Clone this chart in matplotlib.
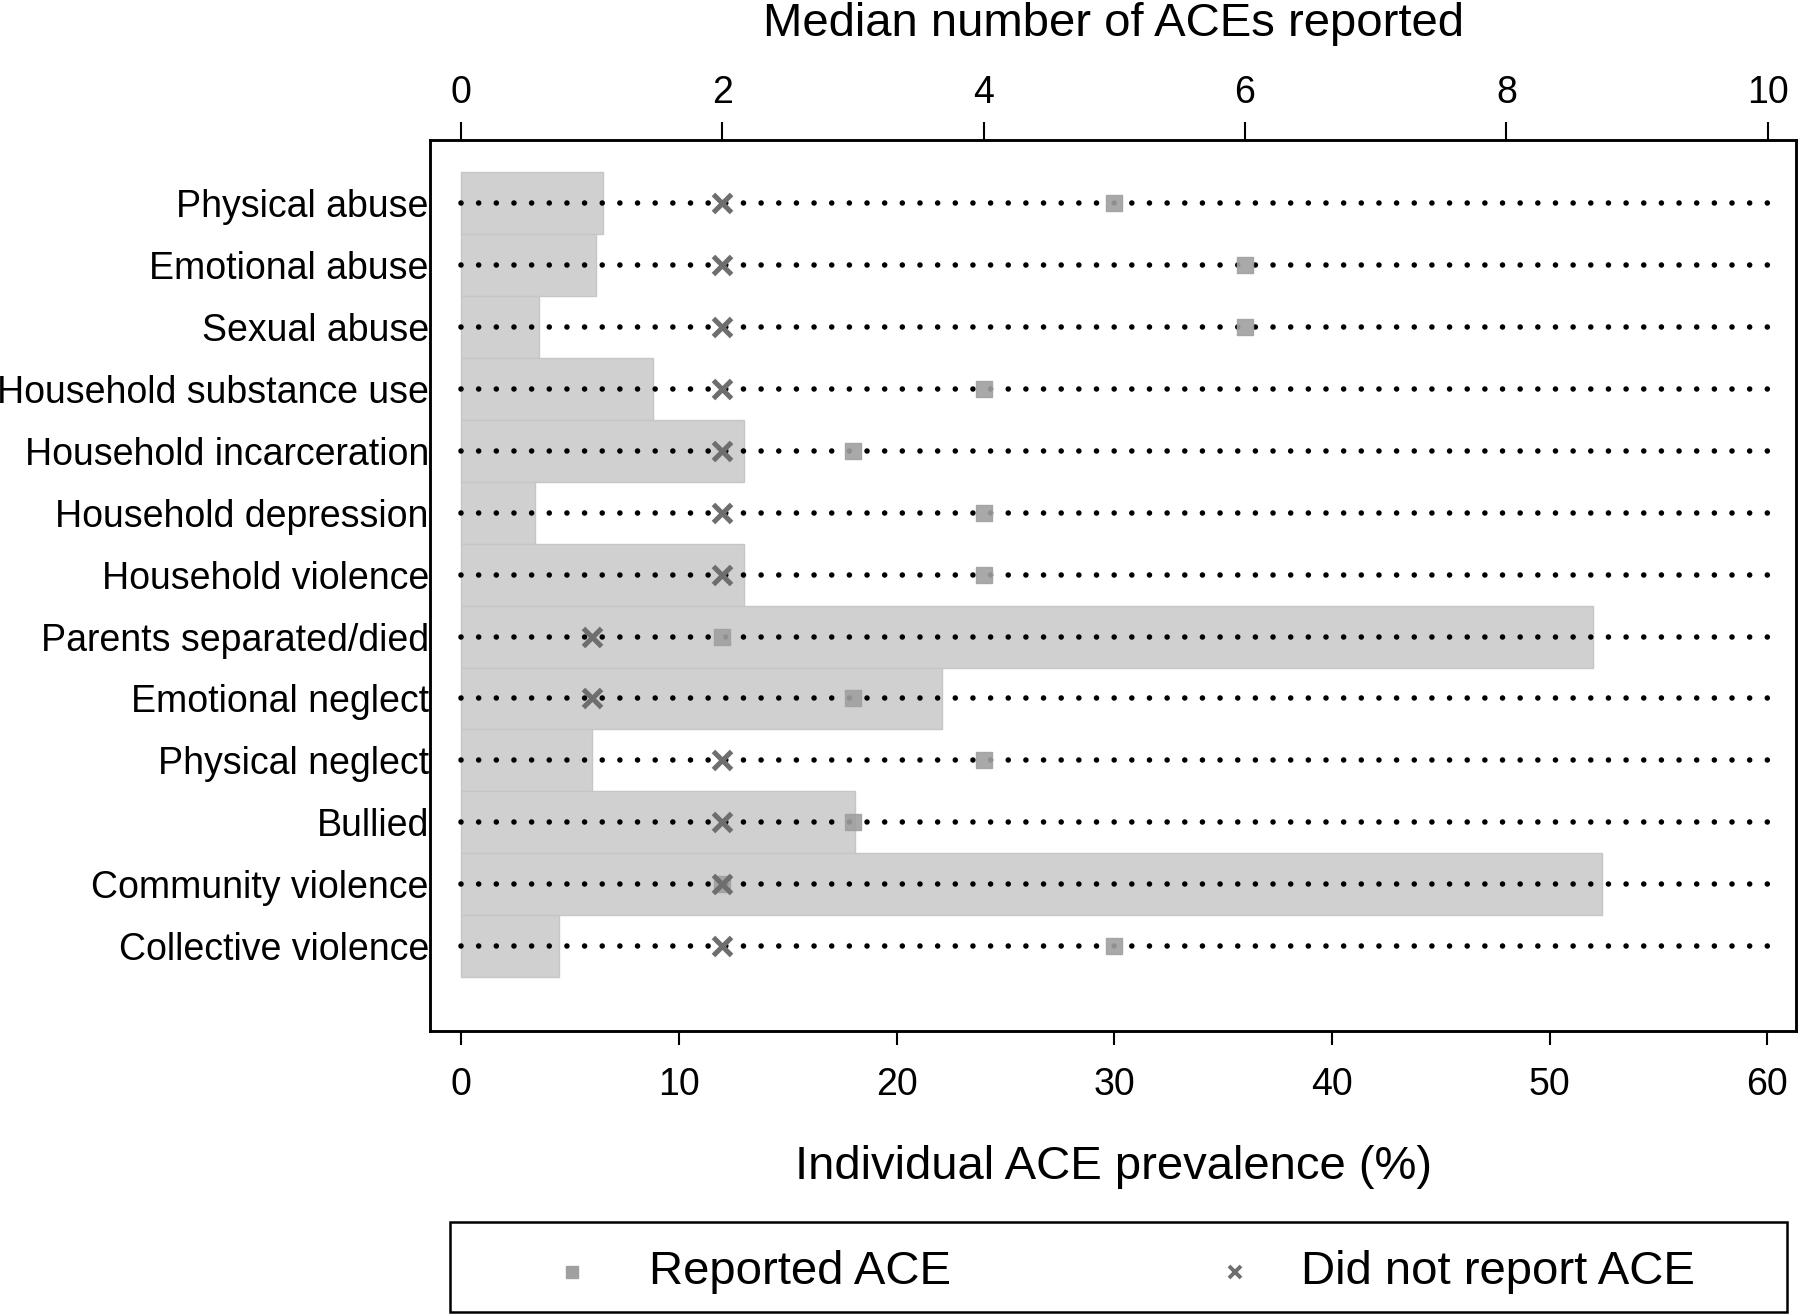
import numpy as np
import matplotlib.pyplot as plt
from matplotlib.lines import Line2D
from matplotlib.patches import Rectangle

plt.rcParams['font.family'] = ['Liberation Sans', 'DejaVu Sans']
plt.rcParams['lines.scale_dashes'] = False

# ACE categories, top to bottom
categories = ['Physical abuse', 'Emotional abuse', 'Sexual abuse',
              'Household substance use', 'Household incarceration',
              'Household depression', 'Household violence',
              'Parents separated/died', 'Emotional neglect',
              'Physical neglect', 'Bullied', 'Community violence',
              'Collective violence']

# prevalence of each ACE (%) - bottom axis
prevalence = [6.5, 6.2, 3.6, 8.8, 13.0, 3.4, 13.0, 52.0, 22.1, 6.0, 18.1, 52.4, 4.5]

# median number of ACEs reported - top axis
median_reported = [5, 6, 6, 4, 3, 4, 4, 2, 3, 4, 3, 2, 5]
median_not_reported = [2, 2, 2, 2, 2, 2, 2, 1, 1, 2, 2, 2, 2]

legend_labels = ['Reported ACE', 'Did not report ACE']

sq_col = '#a0a0a0'
x_col = '#6e6e6e'

y = np.arange(len(categories))

fig = plt.figure(figsize=(18, 13.15), dpi=100)
ax = fig.add_axes([0.239, 0.216, 0.759, 0.6775])

# bars on the prevalence axis
ax.barh(y, prevalence, height=1.0, color='#d0d0d0', edgecolor='#c6c6c6', linewidth=1)
ax.set_xlim(-1.42, 61.33)
ax.set_ylim(13.37, -1.02)
ax.set_xticks([0, 10, 20, 30, 40, 50, 60])
ax.set_yticks(y)
ax.set_yticklabels(categories)
ax.tick_params(axis='x', direction='out', length=10, width=1.5, labelsize=27, pad=16)
ax.tick_params(axis='y', length=0, labelsize=27, pad=1)
ax.set_xlabel('Individual ACE prevalence (%)', fontsize=34, labelpad=30)
for s in ax.spines.values():
    s.set_linewidth(1.8)

# medians on the top axis
ax2 = ax.twiny()
ax2.set_xlim(-0.237, 10.22)
ax2.set_ylim(ax.get_ylim())
for yi in y:
    ax2.plot([0, 10], [yi, yi], color='black', lw=4, ls=(0, (0.01, 12.7)),
             dash_capstyle='round', zorder=2)
ax2.scatter(median_reported, y, marker='s', s=125, color=sq_col, alpha=0.9, zorder=3)
ax2.scatter(median_not_reported, y, marker='x', s=170, color=x_col, linewidths=3.6, zorder=4)
ax2.set_xticks([0, 2, 4, 6, 8, 10])
ax2.tick_params(axis='x', direction='out', length=13, width=1.5, labelsize=27, pad=8)
ax2.set_xlabel('Median number of ACEs reported', fontsize=34, labelpad=28)
for s in ax2.spines.values():
    s.set_linewidth(1.8)

# legend box drawn in figure coordinates
fig.patches.append(Rectangle((0.25, 0.0023), 0.7428, 0.0684, transform=fig.transFigure,
                             facecolor='white', edgecolor='black', linewidth=1.8))
ly = 0.0327
fig.lines.append(Line2D([0.3178], [ly], transform=fig.transFigure, ls='none',
                        marker='s', ms=9, color=sq_col))
fig.text(0.3606, ly, legend_labels[0], fontsize=34, va='center', ha='left')
fig.lines.append(Line2D([0.6861], [ly], transform=fig.transFigure, ls='none',
                        marker='x', ms=9, mew=2.8, color=x_col))
fig.text(0.7228, ly, legend_labels[1], fontsize=34, va='center', ha='left')

fig.savefig('out.png', dpi=100)
